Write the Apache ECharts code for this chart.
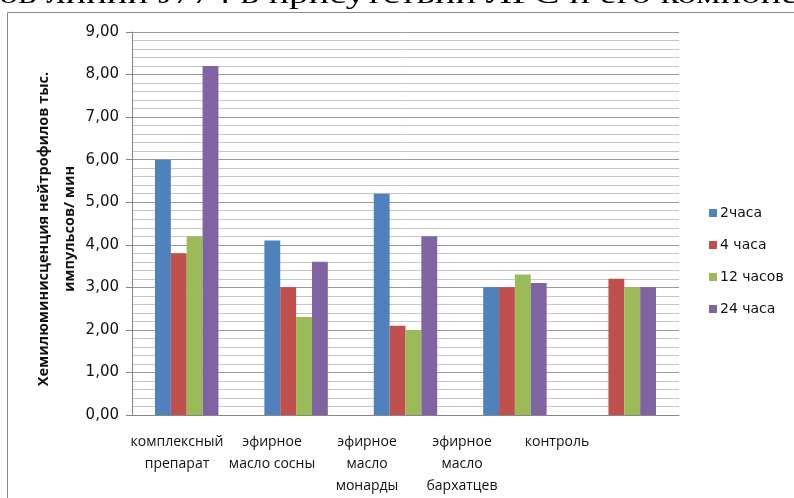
<!DOCTYPE html>
<html>
<head>
<meta charset="utf-8">
<script src="https://cdn.jsdelivr.net/npm/echarts@6/dist/echarts.min.js"></script>
<style>
  html, body { margin: 0; padding: 0; background: #fff; }
  #chart { width: 794px; height: 498px; }
</style>
</head>
<body>
<div id="chart"></div>
<script>
// Groups along the x axis
const categories = [
  'комплексный\nпрепарат',
  'эфирное\nмасло сосны',
  'эфирное\nмасло\nмонарды',
  'эфирное\nмасло\nбархатцев',
  'контроль'
];

// Chemiluminescence per time point (thousand pulses / min)
const seriesNames = ['2часа', '4 часа', '12 часов', '24 часа'];
const h2  = [6.0, 4.1, 5.2, 3.0, null];
const h4  = [3.8, 3.0, 2.1, 3.0, 3.2];
const h12 = [4.2, 2.3, 2.0, 3.3, 3.0];
const h24 = [8.2, 3.6, 4.2, 3.1, 3.0];

const yTitle = 'Хемилюминисценция нейтрофилов тыс.\nимпульсов/ мин';
const headline = 'ов линии J774 в присутствии ЛГС и его компоне';

const yTicks = { min: 0, max: 9, step: 1 };
const colors = ['#4F81BD', '#C0504D', '#9BBB59', '#8064A2'];

const FONT = '"Open Sans", sans-serif';
const WIDE = '"DejaVu Sans", sans-serif';
const chart = echarts.init(document.getElementById('chart'), null, { renderer: 'canvas' });

const seriesData = [h2, h4, h12, h24];

chart.setOption({
  animation: false,
  color: colors,
  textStyle: { fontFamily: FONT },
  grid: [
    // plot area
    { left: 132, right: 115, top: 32, bottom: 83, containLabel: false },
    // band that carries the category captions (set slightly tighter than the bars)
    { left: 129.5, right: 189.5, top: 32, bottom: 83, containLabel: false }
  ],
  legend: {
    orient: 'vertical',
    left: 704,
    top: 199,
    icon: 'rect',
    itemWidth: 8,
    itemHeight: 8,
    itemGap: 14,
    data: seriesNames,
    textStyle: { fontFamily: WIDE, fontSize: 14, color: '#111', lineHeight: 18, padding: [0, 0, 0, -2] }
  },
  xAxis: [
    {
      type: 'category',
      gridIndex: 0,
      data: categories,
      axisLine: { lineStyle: { color: '#868686', width: 1 } },
      axisTick: { show: false },
      axisLabel: { show: false }
    },
    {
      type: 'category',
      gridIndex: 1,
      data: categories,
      axisLine: { show: false },
      axisTick: { show: false },
      splitLine: { show: false },
      axisLabel: {
        interval: 0,
        margin: 16,
        fontFamily: FONT,
        fontSize: 14,
        lineHeight: 22,
        color: '#111',
        verticalAlign: 'top'
      }
    }
  ],
  yAxis: [
    {
      type: 'value',
      gridIndex: 0,
      min: yTicks.min,
      max: yTicks.max,
      interval: yTicks.step,
      axisLine: { show: true, lineStyle: { color: '#868686', width: 1 } },
      axisTick: { show: true, length: 6, lineStyle: { color: '#868686' } },
      axisLabel: {
        margin: 13,
        fontFamily: WIDE,
        fontSize: 15,
        color: '#111',
        formatter: v => v.toFixed(2).replace('.', ',')
      },
      splitLine: { show: true, lineStyle: { color: '#9a9a9a', width: 1 } },
      minorTick: { show: false, splitNumber: 5 },
      minorSplitLine: { show: true, lineStyle: { color: '#c6c6c6', width: 1 } }
    },
    {
      type: 'value',
      gridIndex: 1,
      min: yTicks.min,
      max: yTicks.max,
      show: false
    }
  ],
  series: seriesNames.map((name, i) => ({
    name,
    type: 'bar',
    xAxisIndex: 0,
    yAxisIndex: 0,
    data: seriesData[i],
    barGap: '0%',
    barCategoryGap: '42%',
    itemStyle: { color: colors[i] }
  })),
  graphic: [
    {
      type: 'polyline',
      silent: true,
      shape: { points: [[7.5, 498], [7.5, 12.5], [794, 12.5]] },
      style: { stroke: '#8a8a8a', lineWidth: 1, fill: null }
    },
    {
      // rotated value-axis title
      type: 'text',
      silent: true,
      x: 57,
      y: 229,
      rotation: Math.PI / 2,
      style: {
        text: yTitle,
        font: 'bold 14.5px ' + FONT,
        fill: '#111',
        align: 'center',
        verticalAlign: 'middle',
        lineHeight: 26
      }
    },
    {
      type: 'text',
      silent: true,
      x: -1,
      y: 10,
      scaleX: 1.38,
      style: {
        text: headline,
        font: '28px "Liberation Serif", "Times New Roman", serif',
        fill: '#000',
        verticalAlign: 'bottom'
      }
    }
  ]
});
</script>
</body>
</html>
